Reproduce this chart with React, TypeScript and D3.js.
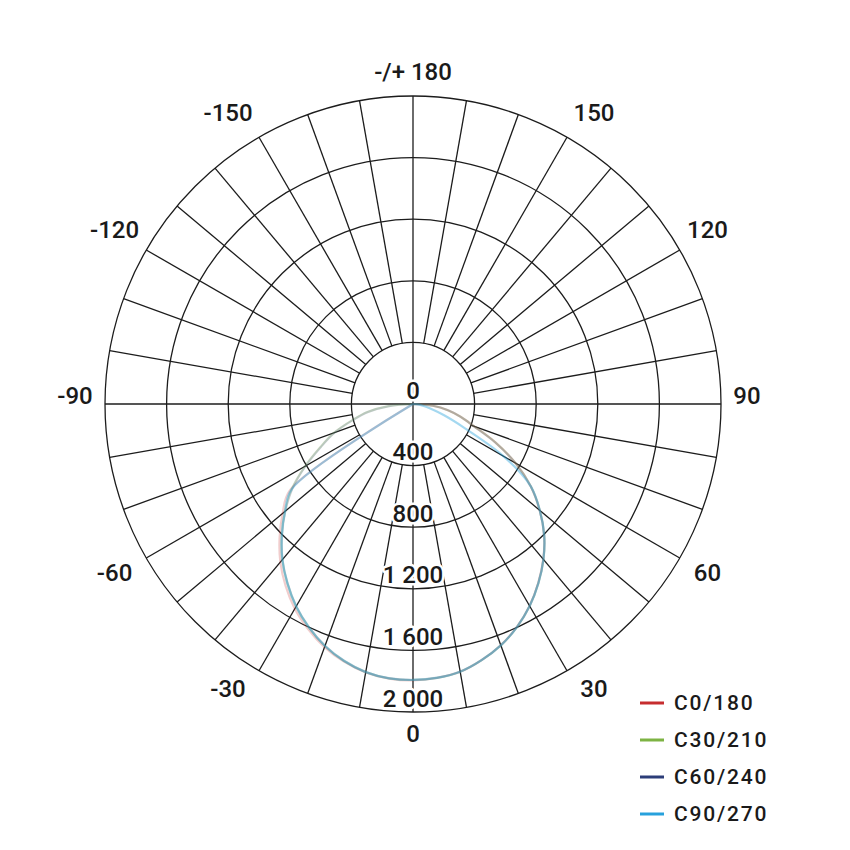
import * as d3 from 'd3';
import React from 'react';

// gamma angles (deg), 0 = straight down, negative = left half
const gammas = [
  -90, -85, -80, -75, -70, -65, -60, -55, -50, -45, -40, -35, -30, -25, -20, -15, -10, -5,
  0, 5, 10, 15, 20, 25, 30, 35, 40, 45, 50, 55, 60, 65, 70, 75, 80, 85, 90,
];

// intensity values (cd/klm)
const c0 = [
  0, 0, 0, 0, 0, 0, 0, 975, 1105, 1225, 1340, 1442, 1535, 1612, 1680, 1732, 1770, 1790,
  1795, 1786, 1766, 1722, 1667, 1597, 1514, 1418, 1316, 1204, 1074, 934, 770, 590, 420, 320, 230, 130, 0,
];
const c30 = [
  0, 160, 300, 410, 545, 665, 810, 960, 1085, 1205, 1320, 1422, 1518, 1600, 1672, 1728, 1768, 1788,
  1792, 1785, 1765, 1722, 1668, 1598, 1515, 1420, 1318, 1205, 1075, 935, 770, 590, 420, 320, 230, 130, 0,
];
const c60 = [
  0, 155, 295, 405, 540, 660, 805, 955, 1082, 1202, 1318, 1420, 1516, 1598, 1670, 1726, 1767, 1787,
  1791, 1784, 1764, 1721, 1667, 1597, 1514, 1419, 1317, 1204, 1074, 934, 768, 588, 418, 318, 228, 128, 0,
];
const c90 = [
  0, 0, 0, 0, 0, 0, 0, 960, 1085, 1205, 1320, 1422, 1518, 1600, 1672, 1728, 1768, 1788,
  1792, 1785, 1765, 1722, 1668, 1598, 1515, 1420, 1318, 1205, 1075, 935, 680, 370, 215, 120, 65, 30, 0,
];

const seriesNames = ['C0/180', 'C30/210', 'C60/240', 'C90/270'];
const seriesValues = [c0, c30, c60, c90];
const seriesColors = ['#c62d2f', '#7db343', '#2c3d78', '#27a1dc'];
const seriesOpacity = [0.24, 0.26, 0.2, 0.42];

const rings = [400, 800, 1200, 1600, 2000];
const ringLabels = ['0', '400', '800', '1 200', '1 600', '2 000'];
const ringLabelValues = [0, 400, 800, 1200, 1600, 2000];

const angleTicks = [180, 150, 120, 90, 60, 30, 0, -30, -60, -90, -120, -150];
const angleTickLabels = ['-/+ 180', '150', '120', '90', '60', '30', '0', '-30', '-60', '-90', '-120', '-150'];

const W = 850;
const H = 850;
const cx = 413;
const cy = 404;

const rScale = d3.scaleLinear().domain([0, 2000]).range([0, 308]);
const toRad = (deg: number) => (deg * Math.PI) / 180;

const FONT = 'Roboto, "DejaVu Sans Condensed", sans-serif';

export default function App() {
  const spokes = d3.range(0, 360, 10);

  const line = d3
    .lineRadial<number>()
    .angle((_, i) => Math.PI - toRad(gammas[i]))
    .radius((v) => rScale(v))
    .curve(d3.curveCatmullRom.alpha(0.5));

  return (
    <svg
      width={W}
      height={H}
      viewBox={`0 0 ${W} ${H}`}
      style={{ position: 'absolute', left: 0, top: 0, background: '#fff' }}
    >
      <g transform={`translate(${cx},${cy})`}>
        {/* grid */}
        <g stroke="#1c1c1c" strokeWidth={1.3} fill="none">
          {rings.map((v) => (
            <circle key={v} r={rScale(v)} />
          ))}
          {spokes.map((a) => {
            const r0 = a % 90 === 0 ? 0 : rScale(400);
            const r1 = rScale(2000);
            const s = Math.sin(toRad(a));
            const c = Math.cos(toRad(a));
            return <line key={a} x1={r0 * s} y1={r0 * c} x2={r1 * s} y2={r1 * c} />;
          })}
        </g>

        {/* radial value labels */}
        <g
          fontFamily={FONT}
          fontSize={24}
          fontWeight={500}
          fill="#1a1a1a"
          textAnchor="middle"
          stroke="#fff"
          strokeWidth={5}
          strokeLinejoin="round"
          style={{ paintOrder: 'stroke' }}
        >
          {ringLabelValues.map((v, i) => (
            <text key={v} x={0} y={rScale(v) - 5.5}>
              {ringLabels[i]}
            </text>
          ))}
        </g>

        {/* angle labels */}
        <g
          fontFamily={FONT}
          fontSize={24}
          fontWeight={500}
          fill="#1a1a1a"
          textAnchor="middle"
          dominantBaseline="central"
        >
          {angleTicks.map((a, i) => {
            const s = Math.sin(toRad(a));
            const c = Math.cos(toRad(a));
            const diag = Math.abs(c) > 0.8 && Math.abs(s) > 0.3;
            const rx = diag ? 362 : Math.abs(s) > 0.99 ? 334 : 340;
            const dx = a < 0 ? -4 : 0;
            let dy = -3;
            if (Math.abs(s) > 0.99) dy = -8;
            else if (Math.abs(s) > 0.8) dy = 5 * Math.sign(c) - 3;
            else if (c < -0.99) dy = 1;
            return (
              <text key={a} x={rx * s + dx} y={333 * c + dy}>
                {angleTickLabels[i]}
              </text>
            );
          })}
        </g>

        {/* intensity curves */}
        <g fill="none" strokeLinejoin="round">
          {seriesValues.map((vals, i) => (
            <path
              key={seriesNames[i]}
              d={line(vals) || ''}
              stroke={seriesColors[i]}
              strokeOpacity={seriesOpacity[i]}
              strokeWidth={2.2}
            />
          ))}
        </g>
      </g>

      {/* legend */}
      <g fontFamily={FONT} fontSize={21} fontWeight={500} fill="#1a1a1a" letterSpacing={1.8}>
        {seriesNames.map((name, i) => {
          const y = 703 + i * 37;
          return (
            <g key={name}>
              <line x1={640} x2={664} y1={y} y2={y} stroke={seriesColors[i]} strokeWidth={3} />
              <text x={674} y={y} dominantBaseline="central">
                {name}
              </text>
            </g>
          );
        })}
      </g>
    </svg>
  );
}
